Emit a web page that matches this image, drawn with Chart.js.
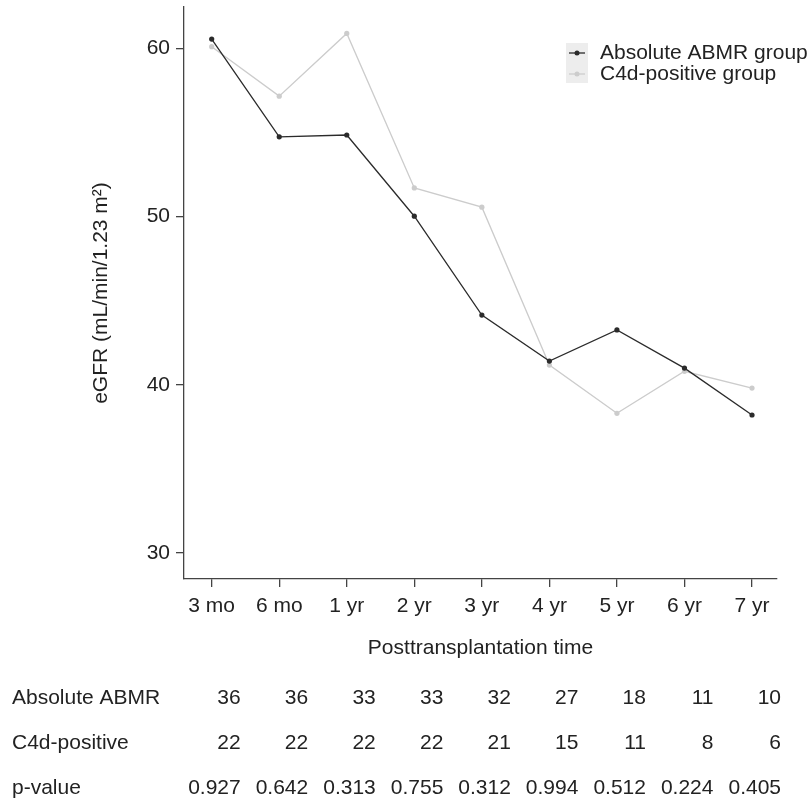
<!DOCTYPE html>
<html>
<head>
<meta charset="utf-8">
<script src="https://cdn.jsdelivr.net/npm/chart.js@4/dist/chart.umd.min.js"></script>
<style>
  html, body { margin: 0; padding: 0; background: #fff; }
  #wrap { width: 812px; height: 804px; position: relative; }
</style>
</head>
<body>
<div id="wrap"><canvas id="chart1"></canvas></div>
<script>
// categories on the x axis
var tiempos = ["3 mo", "6 mo", "1 yr", "2 yr", "3 yr", "4 yr", "5 yr", "6 yr", "7 yr"];
// eGFR values
var absAbmr = [60.55, 54.74, 54.85, 50.02, 44.14, 41.41, 43.26, 40.99, 38.2];
var c4dPos  = [60.1, 57.16, 60.89, 51.7, 50.56, 41.17, 38.3, 40.8, 39.8];
var yTicks = [30, 40, 50, 60];
// table under the chart
var nAbmr = [36, 36, 33, 33, 32, 27, 18, 11, 10];
var nC4d  = [22, 22, 22, 22, 21, 15, 11, 8, 6];
var pVal  = ["0.927", "0.642", "0.313", "0.755", "0.312", "0.994", "0.512", "0.224", "0.405"];
var rowLabels = ["Absolute ABMR", "C4d-positive", "p-value"];
var serieNames = ["Absolute ABMR group", "C4d-positive group"];

var fonte = "'Liberation Sans', Arial, Helvetica, sans-serif";
var corTexto = "#222";
var corEixo = "#444";

function pontos(arr) {
  return arr.map(function (v, i) { return { x: i, y: v }; });
}

// little legend at the top right
var legendaPlugin = {
  id: "legenda",
  afterDraw: function (chart) {
    var ctx = chart.ctx;
    ctx.save();
    ctx.fillStyle = "#ededed";
    ctx.fillRect(566, 43, 22, 40);
    var ys = [53, 74];
    chart.data.datasets.forEach(function (ds, i) {
      ctx.strokeStyle = ds.borderColor;
      ctx.lineWidth = 1.3;
      ctx.beginPath();
      ctx.moveTo(569, ys[i]);
      ctx.lineTo(585, ys[i]);
      ctx.stroke();
      ctx.fillStyle = ds.borderColor;
      ctx.beginPath();
      ctx.arc(577, ys[i], 2.5, 0, Math.PI * 2);
      ctx.fill();
      ctx.fillStyle = corTexto;
      ctx.font = "21px " + fonte;
      ctx.textBaseline = "middle";
      ctx.textAlign = "left";
      ctx.fillText(ds.label, 600, ys[i]);
    });
    ctx.restore();
  }
};

// numbers at risk + p-values, aligned to the x scale
var tabelaPlugin = {
  id: "tabela",
  afterDraw: function (chart) {
    var ctx = chart.ctx;
    var xs = chart.scales.x;
    var linhas = [nAbmr, nC4d, pVal];
    var ys = [698, 743, 788];
    ctx.save();
    ctx.fillStyle = corTexto;
    ctx.font = "21px " + fonte;
    ctx.textBaseline = "middle";
    for (var r = 0; r < linhas.length; r++) {
      ctx.textAlign = "left";
      ctx.fillText(rowLabels[r], 12, ys[r]);
      ctx.textAlign = "right";
      for (var i = 0; i < linhas[r].length; i++) {
        ctx.fillText(String(linhas[r][i]), xs.getPixelForValue(i) + 29, ys[r]);
      }
    }
    ctx.restore();
  }
};

var ctx = document.getElementById("chart1");
var grafico = new Chart(ctx, {
  type: "line",
  data: {
    datasets: [{
      label: serieNames[0],
      data: pontos(absAbmr),
      borderColor: "#2b2b2b",
      backgroundColor: "#2b2b2b",
      borderWidth: 1.3,
      pointRadius: 2.6,
      pointBorderWidth: 0,
      tension: 0
    }, {
      label: serieNames[1],
      data: pontos(c4dPos),
      borderColor: "#cccccc",
      backgroundColor: "#cccccc",
      borderWidth: 1.3,
      pointRadius: 2.6,
      pointBorderWidth: 0,
      tension: 0
    }]
  },
  options: {
    responsive: true,
    maintainAspectRatio: false,
    animation: false,
    layout: { padding: { top: 7, right: 35, left: 0, bottom: 143 } },
    plugins: {
      legend: { display: false },
      tooltip: { enabled: false }
    },
    scales: {
      x: {
        type: "linear",
        min: -0.41,
        max: 8.37,
        afterBuildTicks: function (axis) {
          axis.ticks = tiempos.map(function (t, i) { return { value: i }; });
        },
        afterFit: function (axis) {
          axis.height = 82;
          axis.paddingLeft = 0;
          axis.paddingRight = 0;
        },
        ticks: {
          color: corTexto,
          font: { family: fonte, size: 21 },
          padding: 7,
          maxRotation: 0,
          autoSkip: false,
          callback: function (v) { return tiempos[v]; }
        },
        grid: { drawOnChartArea: false, drawTicks: true, tickLength: 8, color: corEixo, lineWidth: 1.3 },
        border: { display: true, color: corEixo, width: 1.3 },
        title: {
          display: true,
          text: "Posttransplantation time",
          color: corTexto,
          font: { family: fonte, size: 21 },
          padding: { top: 0, bottom: 0 }
        }
      },
      y: {
        min: 28.45,
        max: 62.46,
        afterBuildTicks: function (axis) {
          axis.ticks = yTicks.map(function (v) { return { value: v }; });
        },
        afterFit: function (axis) {
          axis.width = 184;
          axis.paddingTop = 0;
          axis.paddingBottom = 0;
        },
        ticks: {
          color: corTexto,
          font: { family: fonte, size: 21 },
          padding: 6
        },
        grid: { drawOnChartArea: false, drawTicks: true, tickLength: 8, color: corEixo, lineWidth: 1.3 },
        border: { display: true, color: corEixo, width: 1.3 },
        title: {
          display: true,
          text: "eGFR (mL/min/1.23 m\u00B2)",
          color: corTexto,
          font: { family: fonte, size: 21 },
          padding: { top: 89, bottom: 0 }
        }
      }
    }
  },
  plugins: [legendaPlugin, tabelaPlugin]
});
</script>
</body>
</html>
